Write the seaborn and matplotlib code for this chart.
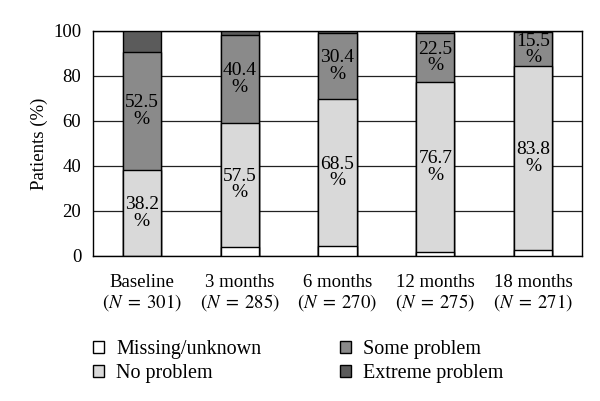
import matplotlib
matplotlib.use("Agg")
import matplotlib.pyplot as plt
import seaborn as sns
import numpy as np
import pandas as pd
from matplotlib.patches import Patch

# segment heights (% of all patients)
times = ["Baseline", "3 months", "6 months", "12 months", "18 months"]
n_vals = [301, 285, 270, 275, 271]
missing = [0.0, 4.0, 4.3, 1.8, 2.8]
no_problem = [38.2, 55.2, 65.6, 75.3, 81.5]
some_problem = [52.5, 38.8, 29.1, 22.1, 15.1]
extreme = [9.3, 2.0, 1.0, 0.8, 0.6]

# printed labels (% of patients with known answer)
no_labels = ["38.2", "57.5", "68.5", "76.7", "83.8"]
some_labels = ["52.5", "40.4", "30.4", "22.5", "15.5"]

sns.set_style("white")
plt.rcParams["font.family"] = ["Liberation Serif", "DejaVu Serif"]
plt.rcParams["mathtext.fontset"] = "stix"
plt.rcParams["text.color"] = "black"
plt.rcParams["axes.labelcolor"] = "black"
plt.rcParams["xtick.color"] = "black"
plt.rcParams["ytick.color"] = "black"

df = pd.DataFrame({"time": times, "missing": missing, "no": no_problem,
                   "some": some_problem, "extreme": extreme})
df["c1"] = df["missing"]
df["c2"] = df["c1"] + df["no"]
df["c3"] = df["c2"] + df["some"]
df["c4"] = df["c3"] + df["extreme"]

fig = plt.figure(figsize=(6.0, 4.01), dpi=100)
ax = fig.add_axes([0.155, 0.362, 0.815, 0.561])

colors = {"c4": "#5b5b5b", "c3": "#8a8a8a", "c2": "#d9d9d9", "c1": "#ffffff"}
for col in ["c4", "c3", "c2", "c1"]:
    sns.barplot(data=df, x="time", y=col, color=colors[col], width=0.39,
                edgecolor="black", linewidth=1.0, saturation=1, ax=ax, zorder=3)

fs = 13.5
for i in range(len(times)):
    y_no = (df["c1"][i] + df["c2"][i]) / 2
    y_some = (df["c2"][i] + df["c3"][i]) / 2
    ax.text(i, y_no, no_labels[i] + "\n%", ha="center", va="center",
            fontsize=14, linespacing=0.95, zorder=4)
    ax.text(i, y_some, some_labels[i] + "\n%", ha="center", va="center",
            fontsize=14, linespacing=0.95, zorder=4)

ax.set_ylim(0, 100)
ax.set_xlim(-0.5, len(times) - 0.5)
ax.set_yticks(range(0, 101, 20))
ax.yaxis.grid(True, color="#222222", linewidth=0.9, zorder=0)
ax.set_axisbelow(True)
ax.set_xticks(range(len(times)))
ax.set_xticklabels([f"{t}\n$(N\\;=\\;{n})$" for t, n in zip(times, n_vals)],
                   fontsize=fs, linespacing=1.05)
ax.set_xticks(np.arange(-0.5, len(times), 1.0), minor=True)
ax.tick_params(axis="x", which="major", length=0, pad=13)
ax.tick_params(axis="x", which="minor", length=6, width=1, direction="out")
ax.tick_params(axis="y", length=5, width=1, direction="out", labelsize=fs)
ax.set_xlabel("")
ax.set_ylabel("Patients (%)", fontsize=fs)
for s in ax.spines.values():
    s.set_visible(True)
    s.set_color("black")
    s.set_linewidth(1.0)

handles = [Patch(facecolor="#ffffff", edgecolor="black", label="Missing/unknown"),
           Patch(facecolor="#d9d9d9", edgecolor="black", label="No problem"),
           Patch(facecolor="#8a8a8a", edgecolor="black", label="Some problem"),
           Patch(facecolor="#5b5b5b", edgecolor="black", label="Extreme problem")]
fig.legend(handles=handles, ncol=2, loc="upper left", bbox_to_anchor=(0.125, 0.197),
           frameon=False, fontsize=14.5, handlelength=0.55, handleheight=0.55,
           handletextpad=0.6, columnspacing=3.9, labelspacing=0.25)

fig.savefig("out.png", dpi=100)
